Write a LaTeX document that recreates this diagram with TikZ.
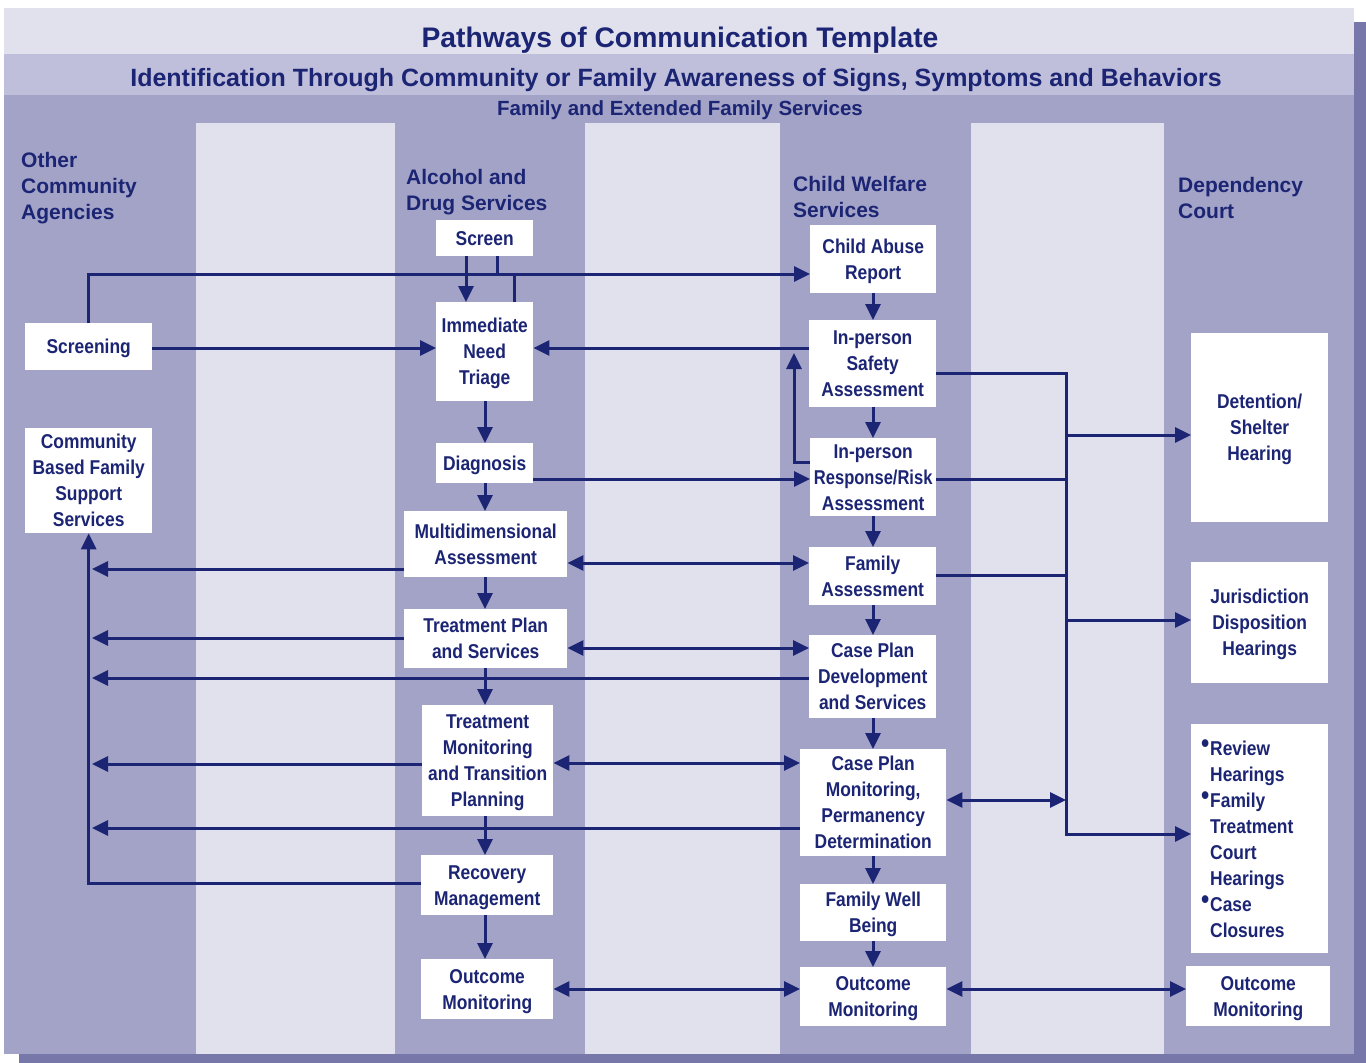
\documentclass[tikz,border=0pt]{standalone}
\usepackage{fontspec}
\setmainfont{Liberation Sans}
\newfontfamily\boxfont[FakeStretch=0.87]{Liberation Sans}
\usetikzlibrary{arrows.meta}
\definecolor{navy}{HTML}{1C2574}
\definecolor{lightbg}{HTML}{E1E1EE}
\definecolor{midbg}{HTML}{BFBFDB}
\definecolor{darkbg}{HTML}{A3A3C8}
\definecolor{shadowc}{HTML}{7777AA}
\newcommand{\bitem}{\makebox[9pt][l]{\raisebox{2.5pt}{\fontsize{27}{26}\selectfont •}}}
\newcommand{\bind}{\hspace*{9pt}}
\begin{document}
\begin{tikzpicture}[x=1pt,y=-1pt,
  boxbase/.style={fill=white, inner sep=0pt, align=center, anchor=north west, text=navy,
    font=\boxfont\bfseries\fontsize{20}{26}\selectfont},
  box/.style={boxbase, text depth=0pt},
  hdr/.style={anchor=base west, align=left, inner sep=0pt, text=navy,
    font=\bfseries\fontsize{21}{26}\selectfont},
  ttl/.style={anchor=base, inner sep=0pt, text=navy},
  ln/.style={draw=navy, line width=3pt},
  arr/.style={ln, -{Triangle[length=16pt,width=15pt]}},
  darr/.style={ln, {Triangle[length=16pt,width=15pt]}-{Triangle[length=16pt,width=15pt]}}]
\useasboundingbox (0,0) rectangle (1366,1063);
% background
\fill[shadowc] (19,22) rectangle (1366,1063);
\fill[darkbg] (4,8) rectangle (1354,1054);
\fill[lightbg] (4,8) rectangle (1354,54);
\fill[midbg] (4,54) rectangle (1354,95);
\fill[lightbg] (196,123) rectangle (395,1054);
\fill[lightbg] (585,123) rectangle (780,1054);
\fill[lightbg] (971,123) rectangle (1164,1054);
% titles
\node[ttl, font=\bfseries\fontsize{28.3}{30}\selectfont] (title) at (680,47) {Pathways of Communication Template};
\node[ttl, font=\bfseries\fontsize{25}{28}\selectfont] (sub) at (676,86) {Identification Through Community or Family Awareness of Signs, Symptoms and Behaviors};
\node[ttl, font=\bfseries\fontsize{20.5}{24}\selectfont] (fam) at (680,115) {Family and Extended Family Services};
% column headers (anchor at last baseline)
\node[hdr] (h1) at (21,219) {Other\\Community\\Agencies};
\node[hdr] (h2) at (406,210) {Alcohol and\\Drug Services};
\node[hdr] (h3) at (793,217) {Child Welfare\\Services};
\node[hdr] (h4) at (1178,218) {Dependency\\Court};
% other community agencies
\node[box, minimum width=127pt, minimum height=47pt] (scg) at (25,323) {Screening};
\node[box, minimum width=127pt, minimum height=105pt] (cbf) at (25,428) {Community\\Based Family\\Support\\Services};
% alcohol and drug services
\node[box, minimum width=97pt, minimum height=36pt] (scr) at (436,220) {Screen};
\node[box, minimum width=97pt, minimum height=99pt] (int) at (436,302) {Immediate\\Need\\Triage};
\node[box, minimum width=97pt, minimum height=40pt] (dia) at (436,443) {Diagnosis};
\node[box, minimum width=163pt, minimum height=66pt] (mda) at (404,511) {Multidimensional\\Assessment};
\node[box, minimum width=163pt, minimum height=59pt] (tps) at (404,609) {Treatment Plan\\and Services};
\node[box, minimum width=131pt, minimum height=111pt] (tmt) at (422,705) {Treatment\\Monitoring\\and Transition\\Planning};
\node[box, minimum width=132pt, minimum height=60pt] (rcm) at (421,855) {Recovery\\Management};
\node[box, minimum width=132pt, minimum height=60pt] (oma) at (421,959) {Outcome\\Monitoring};
% child welfare services
\node[box, minimum width=126pt, minimum height=68pt] (car) at (810,225) {Child Abuse\\Report};
\node[box, minimum width=127pt, minimum height=87pt] (isa) at (809,320) {In-person\\Safety\\Assessment};
\node[box, minimum width=126pt, minimum height=78pt] (irr) at (810,438) {In-person\\\scalebox{0.95}[1]{Response/Risk}\\Assessment};
\node[box, minimum width=127pt, minimum height=58pt] (fas) at (809,547) {Family\\Assessment};
\node[box, minimum width=127pt, minimum height=83pt] (cpd) at (809,635) {Case Plan\\Development\\and Services};
\node[box, minimum width=146pt, minimum height=107pt] (cpm) at (800,749) {Case Plan\\Monitoring,\\Permanency\\Determination};
\node[box, minimum width=146pt, minimum height=57pt] (fwb) at (800,884) {Family Well\\Being};
\node[box, minimum width=146pt, minimum height=59pt] (omc) at (800,967) {Outcome\\Monitoring};
% dependency court
\node[box, minimum width=137pt, minimum height=189pt] (dsh) at (1191,333) {Detention/\\Shelter\\Hearing};
\node[box, minimum width=137pt, minimum height=121pt] (jdh) at (1191,562) {Jurisdiction\\Disposition\\Hearings};
\node[boxbase, minimum height=229pt, text width=117pt, inner xsep=10pt, align=left] (rev) at (1191,724)
  {\bitem Review\\ \bind Hearings\\ \bitem Family\\ \bind Treatment\\ \bind Court\\ \bind Hearings\\ \bitem Case\\ \bind Closures};
\node[box, minimum width=144pt, minimum height=60pt] (omd) at (1186,966) {Outcome\\Monitoring};
% axis coordinates
\coordinate (ax) at (485,0);
\coordinate (cx) at (873,0);
\coordinate (busL) at (92,0);
\coordinate (busR) at (1066,0);
% vertical chains
\draw[arr] (scr.south -| 466,0) -- (int.north -| 466,0);
\draw[arr] (int.south -| ax) -- (dia.north -| ax);
\draw[arr] (dia.south -| ax) -- (mda.north -| ax);
\draw[arr] (mda.south -| ax) -- (tps.north -| ax);
\draw[arr] (tps.south -| ax) -- (tmt.north -| ax);
\draw[arr] (tmt.south -| ax) -- (rcm.north -| ax);
\draw[arr] (rcm.south -| ax) -- (oma.north -| ax);
\draw[arr] (car.south -| cx) -- (isa.north -| cx);
\draw[arr] (isa.south -| cx) -- (irr.north -| cx);
\draw[arr] (irr.south -| cx) -- (fas.north -| cx);
\draw[arr] (fas.south -| cx) -- (cpd.north -| cx);
\draw[arr] (cpd.south -| cx) -- (cpm.north -| cx);
\draw[arr] (cpm.south -| cx) -- (fwb.north -| cx);
\draw[arr] (fwb.south -| cx) -- (omc.north -| cx);
% top line to child abuse report
\draw[arr] (scg.north) |- (car.west |- 0,274);
\draw[ln] (scr.south -| 497,0) -- (497,274);
\draw[ln] (int.north -| 514,0) -- (514,274);
% into triage
\draw[arr] (scg.east |- 0,348) -- (int.west |- 0,348);
\draw[arr] (isa.west |- 0,348) -- (int.east |- 0,348);
\draw[arr] (irr.west |- 0,462) -| (794,353);
\draw[arr] (dia.east |- 0,479) -- (irr.west |- 0,479);
% right bus to dependency court
\draw[arr] (isa.east |- 0,373) -| (busR |- 0,834) -- (rev.west |- 0,834);
\draw[arr] (busR |- 0,435) -- (dsh.west |- 0,435);
\draw[arr] (busR |- 0,620) -- (jdh.west |- 0,620);
\draw[ln] (irr.east |- 0,479) -- (busR |- 0,479);
\draw[ln] (fas.east |- 0,575) -- (busR |- 0,575);
\draw[darr] (cpm.east |- 0,800) -- (busR |- 0,800);
% ADS <-> CWS
\draw[darr] (mda.east |- 0,563) -- (fas.west |- 0,563);
\draw[darr] (tps.east |- 0,648) -- (cpd.west |- 0,648);
\draw[darr] (tmt.east |- 0,763) -- (cpm.west |- 0,763);
\draw[darr] (oma.east |- 0,989) -- (omc.west |- 0,989);
\draw[darr] (omc.east |- 0,989) -- (omd.west |- 0,989);
% left bus to community based services
\draw[arr] (mda.west |- 0,569) -- (busL |- 0,569);
\draw[arr] (tps.west |- 0,638) -- (busL |- 0,638);
\draw[arr] (cpd.west |- 0,678) -- (busL |- 0,678);
\draw[arr] (tmt.west |- 0,764) -- (busL |- 0,764);
\draw[arr] (cpm.west |- 0,828) -- (busL |- 0,828);
\draw[arr] (rcm.west |- 0,883) -| (cbf.south);
\end{tikzpicture}
\end{document}
